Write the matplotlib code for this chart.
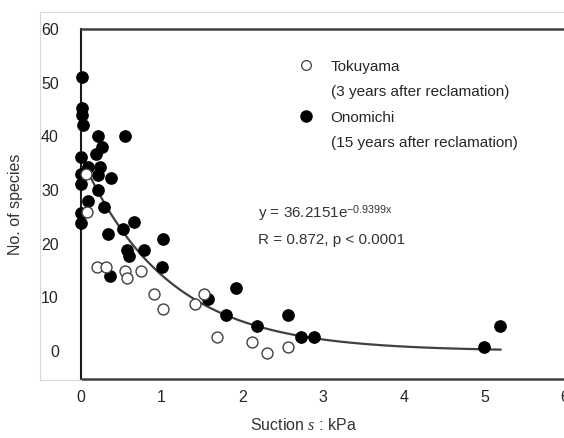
import numpy as np
import matplotlib
matplotlib.use("Agg")
import matplotlib.pyplot as plt
from matplotlib.lines import Line2D

plt.rcParams['font.family'] = ['Liberation Sans', 'DejaVu Sans']
plt.rcParams['mathtext.fontset'] = 'custom'
plt.rcParams['mathtext.rm'] = 'Liberation Sans'
plt.rcParams['mathtext.it'] = 'Liberation Serif:italic'

# Tokuyama (3 years after reclamation) - open circles
toku_x = [0.06, 0.08, 0.20, 0.31, 0.545, 0.57, 0.74, 0.905, 1.02, 1.41, 1.53, 1.68, 2.12, 2.30, 2.57]
toku_y = [33.0, 26.0, 15.7, 15.7, 14.9, 13.7, 14.9, 10.7, 7.8, 8.8, 10.7, 2.7, 1.7, -0.3, 0.8]

# Onomichi (15 years after reclamation) - filled circles
ono_x = [0.01, 0.01, 0.01, 0.02, 0.21, 0.545, 0.00, 0.26, 0.19, 0.09, 0.23, 0.21, 0.37,
         0.00, 0.00, 0.21, 0.09, 0.00, 0.00, 0.28, 0.34, 0.52, 0.66, 0.57, 0.60, 0.78,
         1.02, 1.00, 0.36, 1.57, 1.92, 1.80, 2.18, 2.56, 2.73, 2.89, 4.99, 5.19]
ono_y = [51.1, 45.2, 43.9, 42.1, 40.1, 40.0, 36.1, 38.0, 36.8, 34.3, 34.2, 32.8, 32.3,
         32.9, 31.1, 30.0, 28.0, 25.8, 23.8, 26.9, 21.9, 22.8, 24.0, 18.8, 17.7, 18.8,
         20.8, 15.7, 14.0, 9.7, 11.8, 6.7, 4.7, 6.7, 2.7, 2.7, 0.8, 4.7]

# exponential fit
fit_a = 36.2151
fit_b = -0.9399
fit_x = np.linspace(0, 5.2, 200)
fit_y = fit_a * np.exp(fit_b * fit_x)

fig = plt.figure(figsize=(5.64, 4.38), dpi=100)
# light chart-area border (left and top edges only, the right runs off the picture)
fig.add_artist(Line2D([40 / 564, 40 / 564, 1.0], [1 - 380 / 438, 1 - 12 / 438, 1 - 12 / 438],
                      transform=fig.transFigure, color='#d9d9d9', lw=0.8))
fig.add_artist(Line2D([40 / 564, 81 / 564], [1 - 380 / 438, 1 - 380 / 438],
                      transform=fig.transFigure, color='#d9d9d9', lw=0.8))

ax = fig.add_axes([81 / 564, 1 - 379 / 438, 484 / 564, 350 / 438])
ax.set_frame_on(False)

ax.set_xlim(0, 6)
ax.set_ylim(-5.2, 60)

# axis lines: left, top and bottom only
ax.axvline(0, color='#1a1a1a', lw=1.5, clip_on=False, zorder=1)
ax.axhline(60, color='#404040', lw=1.8, clip_on=False, zorder=1)
ax.axhline(-5.2, color='#404040', lw=1.8, clip_on=False, zorder=1)

ax.plot(fit_x, fit_y, color='#404040', lw=1.6, zorder=2)
ax.scatter(ono_x, ono_y, s=66, color='black', zorder=3, clip_on=False)
ax.scatter(toku_x, toku_y, s=62, facecolor='white', edgecolor='#404040', linewidth=1.0, zorder=4, clip_on=False)

ax.set_xticks(range(0, 7))
ax.set_yticks(range(0, 61, 10))
ax.tick_params(length=0, labelsize=11.5, colors='#262626')
ax.tick_params(axis='y', pad=16)
ax.tick_params(axis='x', pad=8)

ax.set_ylabel('No. of species', fontsize=11.5, color='#333333')
ax.yaxis.set_label_coords(-0.12, 0.5)
ax.set_xlabel('Suction $s$ : kPa', fontsize=11.5, color='#333333')
ax.xaxis.set_label_coords(0.459, -0.11)

ax.text(0.365, 0.474, 'y = 36.2151e$^{\\mathrm{-0.9399x}}$', transform=ax.transAxes,
        fontsize=11, color='#333333', va='center')
ax.text(0.365, 0.397, 'R = 0.872, p < 0.0001', transform=ax.transAxes,
        fontsize=11, color='#333333', va='center')

blank = Line2D([], [], linestyle='none', marker=None)
handles = [
    Line2D([], [], linestyle='none', marker='o', markersize=7, markerfacecolor='white',
           markeredgecolor='#404040', markeredgewidth=0.9),
    blank,
    Line2D([], [], linestyle='none', marker='o', markersize=8, color='black'),
    blank,
]
labels = ['Tokuyama', '(3 years after reclamation)', 'Onomichi', '(15 years after reclamation)']
leg = ax.legend(handles, labels, loc='upper left', bbox_to_anchor=(0.437, 0.93),
                frameon=False, fontsize=11, labelspacing=0.76, handlelength=1.0,
                handletextpad=1.1, borderaxespad=0)
for t in leg.get_texts():
    t.set_color('#262626')

fig.savefig('out.png', dpi=100)
